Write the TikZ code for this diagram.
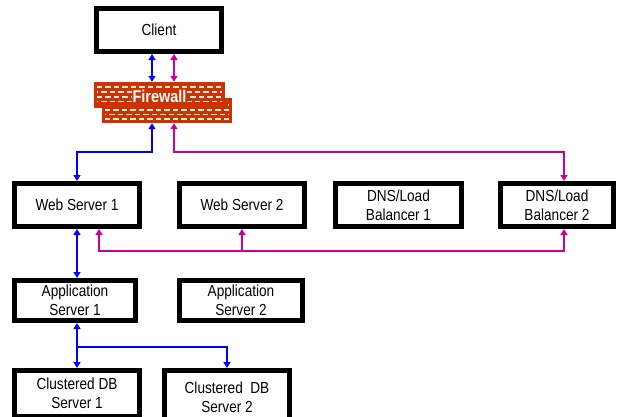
\documentclass[tikz,border=0pt]{standalone}
\usepackage{fontspec}
\setmainfont{Liberation Sans}
\newfontfamily\boxfont[FakeStretch=0.85]{Liberation Sans}
\usetikzlibrary{arrows.meta,calc}
\definecolor{netInk}   {HTML}{000000}
\definecolor{netBlue}  {HTML}{0000FF}
\definecolor{netPink}  {HTML}{CC0099}
\definecolor{wallFill} {HTML}{CC3300}
\definecolor{wallBrick}{HTML}{FFE6DE}

\begin{document}
\begin{tikzpicture}[x=1pt, y=-1pt,
  srv/.style     ={draw=netInk, line width=4.6pt, fill=white, align=center, inner sep=0pt,
                   minimum width=125.4pt, minimum height=43.4pt, font=\boxfont\fontsize{16}{19}\selectfont},
  wall/.style    ={fill=wallFill, inner sep=0pt},
  brick/.style   ={wallBrick, line width=1.7pt, dash pattern=on 5.5pt off 3pt},
  wallTxt/.style ={text=white, fill=wallFill, font=\boxfont\fontsize{17}{18}\selectfont\bfseries,
                   inner xsep=1pt, inner ysep=0.5pt},
  bArr/.style    ={{Triangle[length=6pt,width=7pt]}-{Triangle[length=6pt,width=7pt]}, line width=2pt, netBlue},
  mArr/.style    ={{Triangle[length=6pt,width=7pt]}-{Triangle[length=6pt,width=7pt]}, line width=2pt, netPink},
  bTip/.style    ={-{Triangle[length=6pt,width=7pt]}, line width=2pt, netBlue},
  mTip/.style    ={-{Triangle[length=6pt,width=7pt]}, line width=2pt, netPink},
]
\useasboundingbox (0,0) rectangle (618,416);
\clip (0,0) rectangle (618,416);

\node[srv] (client) at (159,30) {Client};

% firewall: two staggered brick slabs
\node[wall, minimum width=130pt, minimum height=25pt] (fwBack) at (167,110.5) {};
\foreach \r/\ph in {7.2/4, 12/0, 16.8/4, 21.4/0}
  \draw[brick, dash phase=\ph pt] ([xshift=3pt, yshift=-\r pt]fwBack.north west) -- ([xshift=-3pt, yshift=-\r pt]fwBack.north east);
\node[wall, minimum width=131pt, minimum height=26pt] (fwFront) at (159.5,95) {};
\foreach \r/\ph in {5.3/0, 10/4, 15/0, 19.7/4}
  \draw[brick, dash phase=\ph pt] ([xshift=3pt, yshift=-\r pt]fwFront.north west) -- ([xshift=-3pt, yshift=-\r pt]fwFront.north east);
\node[wallTxt] (fwLabel) at (159.5,96.5) {Firewall};

\node[srv] (web1) at (77,205)    {Web Server 1};
\node[srv] (web2) at (242,205)   {Web Server 2};
\node[srv, minimum width=126.4pt] (lb1) at (398.5,205) {DNS/Load\\Balancer 1};
\node[srv, minimum width=113.4pt] (lb2) at (557,205)   {DNS/Load\\Balancer 2};

\node[srv, minimum width=121.4pt, minimum height=40.4pt] (app1) at (75,300.5)  {Application\\Server 1};
\node[srv, minimum width=123.4pt, minimum height=40.4pt] (app2) at (241,300.5) {Application\\Server 2};

\node[srv, minimum height=46.4pt] (db1) at (77,393.5)  {Clustered DB\\Server 1};
\node[srv, minimum height=54.4pt] (db2) at (227,397.5) {Clustered~~DB\\Server 2};

\coordinate (xB) at (152,0);
\coordinate (xM) at (174,0);
\coordinate (xW) at (99,0);
\coordinate (xL) at (564,0);
\coordinate (yTop) at (0,152);
\coordinate (yBot) at (0,251);
\coordinate (yDb)  at (0,347);

\draw[bArr] (client.south -| xB) -- (fwFront.north -| xB);
\draw[mArr] (client.south -| xM) -- (fwFront.north -| xM);
\draw[bArr] (fwBack.south -| xB) |- (web1.north |- yTop) -- (web1.north);
\draw[mArr] (fwBack.south -| xM) |- (xL |- yTop) -- (lb2.north -| xL);

\draw[mArr] (web1.south -| xW) |- (xL |- yBot) -- (lb2.south -| xL);
\draw[mTip] (web2.south |- yBot) -- (web2.south);

\draw[bArr] (web1.south) -- (app1.north -| web1.south);
\draw[bArr] (app1.south -| web1.south) -- (db1.north);
\draw[bTip] (db1.north |- yDb) -| (db2.north);

\end{tikzpicture}
\end{document}
